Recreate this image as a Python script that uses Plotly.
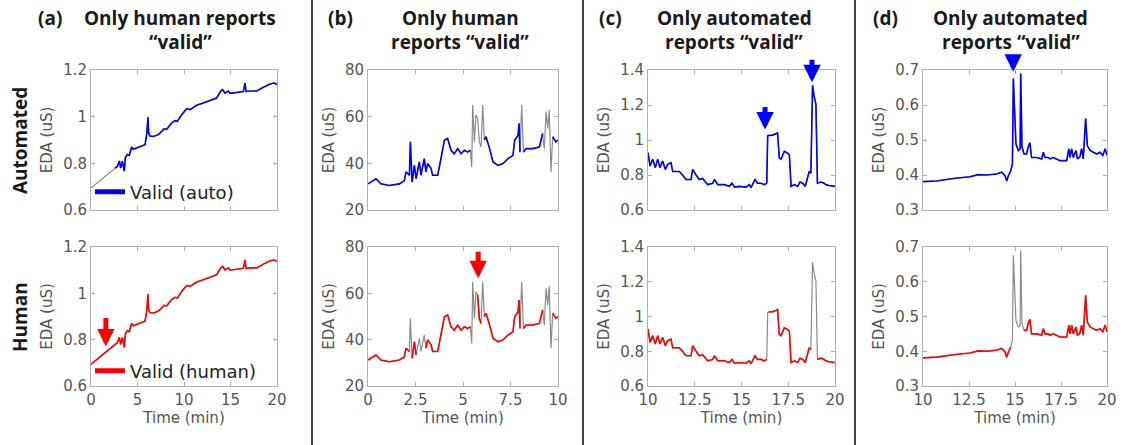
import plotly.graph_objects as go

W, H = 1125, 445

# ---------------- data ----------------
# Panel (a)
a_time = [0.0, 1.33, 2.58, 2.83, 3.05, 3.19, 3.37, 3.58, 3.69, 3.9, 4.12, 4.37, 4.55, 4.91, 5.45,
          5.81, 5.99, 6.13, 6.2, 6.34, 6.7, 7.24, 7.6, 7.85, 8.14, 8.67, 9.03, 9.28, 9.75, 10.29,
          10.65, 11.36, 12.08, 12.8, 13.5, 13.94, 14.16, 14.41, 14.77, 14.95, 15.67, 16.38, 16.56,
          16.67, 17.28, 17.82, 18.53, 19.25, 19.71, 20.0]
a_eda = [0.694, 0.737, 0.78, 0.787, 0.81, 0.78, 0.809, 0.766, 0.824, 0.838, 0.834, 0.87, 0.86,
         0.866, 0.876, 0.88, 0.923, 0.997, 0.93, 0.917, 0.915, 0.923, 0.937, 0.948, 0.946, 0.973,
         0.983, 0.98, 1.008, 1.034, 1.03, 1.049, 1.059, 1.07, 1.08, 1.109, 1.116, 1.101, 1.11, 1.1,
         1.105, 1.108, 1.144, 1.108, 1.11, 1.11, 1.126, 1.14, 1.144, 1.138]
a_auto_invalid = [(-1.0, 2.5)]
a_human_invalid = []

# Panel (b)
b_time = [0, 0.42, 0.68, 1.12, 1.65, 1.91, 2.0, 2.18, 2.23, 2.32, 2.44, 2.53, 2.7, 2.79, 2.96,
          3.05, 3.14, 3.32, 3.4, 3.67, 3.84, 4.02, 4.19, 4.37, 4.54, 4.72, 4.9, 5.07, 5.25, 5.39,
          5.46, 5.51, 5.6, 5.68, 5.77, 5.86, 5.95, 6.04, 6.12, 6.21, 6.4, 6.58, 6.84, 7.1, 7.37,
          7.63, 7.72, 7.9, 7.95, 8.0, 8.09, 8.18, 8.32, 8.67, 9.02, 9.19, 9.28, 9.37, 9.46, 9.54,
          9.63, 9.72, 9.89, 10.0]
b_eda = [31.2, 33.4, 31.2, 30.5, 31.2, 32.5, 36.3, 34.9, 49.2, 31.9, 39.1, 33.4, 40.6, 34.9, 42.0,
         36.3, 39.9, 37.8, 34.9, 34.9, 42.0, 49.9, 50.7, 45.6, 44.1, 46.3, 44.1, 45.6, 44.8, 45.6,
         38.4, 65.0, 49.2, 60.7, 59.3, 49.2, 47.0, 65.0, 50.0, 51.4, 46.3, 40.6, 39.1, 39.9, 42.0,
         43.4, 49.9, 52.0, 57.1, 44.8, 65.0, 44.8, 46.3, 46.3, 47.0, 52.8, 46.3, 62.2, 55.0, 63.0,
         36.3, 51.4, 49.2, 50.0]
b_auto_invalid = [(5.40, 6.10), (8.01, 8.17), (9.20, 9.70)]
b_human_invalid = [(2.20, 2.30), (2.65, 2.75), (2.93, 3.0), (5.40, 5.72), (5.96, 6.10),
                   (8.01, 8.17), (9.20, 9.42), (9.50, 9.70)]

# Panel (c)
c_time = [10.0, 10.11, 10.25, 10.39, 10.52, 10.64, 10.78, 10.93, 11.05, 11.23, 11.32, 11.68,
          11.85, 12.03, 12.3, 12.39, 12.57, 12.74, 12.92, 13.19, 13.46, 13.55, 13.73, 14.08,
          14.35, 14.49, 14.62, 14.88, 15.24, 15.42, 15.51, 15.63, 15.72, 15.86, 16.04, 16.22,
          16.35, 16.4, 16.45, 16.67, 16.84, 16.93, 17.02, 17.11, 17.29, 17.47, 17.56, 17.65,
          17.83, 18.0, 18.13, 18.27, 18.41, 18.53, 18.62, 18.71, 18.8, 18.88, 18.98, 19.06,
          19.24, 19.42, 19.5, 19.67, 19.94, 20.0]
c_eda = [0.928, 0.851, 0.89, 0.842, 0.89, 0.842, 0.88, 0.832, 0.861, 0.87, 0.82, 0.82, 0.80,
         0.774, 0.774, 0.832, 0.80, 0.774, 0.78, 0.745, 0.753, 0.774, 0.745, 0.745, 0.735, 0.753,
         0.731, 0.735, 0.731, 0.745, 0.728, 0.76, 0.774, 0.753, 0.753, 0.745, 0.753, 1.024,
         1.026, 1.028, 1.035, 1.04, 0.898, 0.89, 0.935, 0.925, 0.915, 0.735, 0.745, 0.735, 0.76,
         0.753, 0.735, 0.79, 0.82, 0.81, 1.312, 1.252, 1.204, 0.753, 0.76, 0.753, 0.745, 0.74,
         0.735, 0.735]
c_auto_invalid = []
c_human_invalid = [(16.36, 16.44), (18.72, 19.05)]

# Panel (d)
d_time = [10.0, 10.74, 11.65, 12.55, 13.0, 13.46, 14.0, 14.27, 14.37, 14.46, 14.55, 14.64, 14.77,
          14.86, 14.91, 14.98, 15.05, 15.18, 15.28, 15.31, 15.38, 15.49, 15.63, 15.72, 15.81,
          15.9, 16.18, 16.45, 16.54, 16.63, 16.81, 16.9, 17.08, 17.45, 17.81, 17.93, 17.99,
          18.08, 18.17, 18.32, 18.39, 18.53, 18.62, 18.71, 18.84, 18.93, 19.08, 19.26, 19.44,
          19.62, 19.77, 19.9, 20.0]
d_eda = [0.381, 0.383, 0.39, 0.395, 0.401, 0.40, 0.403, 0.408, 0.403, 0.398, 0.383, 0.398, 0.412,
         0.431, 0.676, 0.566, 0.489, 0.47, 0.475, 0.69, 0.48, 0.46, 0.46, 0.48, 0.492, 0.45, 0.45,
         0.446, 0.465, 0.45, 0.45, 0.446, 0.45, 0.441, 0.441, 0.475, 0.45, 0.475, 0.45, 0.47,
         0.446, 0.452, 0.475, 0.446, 0.561, 0.484, 0.47, 0.465, 0.46, 0.465, 0.456, 0.475, 0.456]
d_auto_invalid = []
d_human_invalid = [(14.80, 15.45)]

# Tick values / labels
a_xticks = [0, 5, 10, 15, 20]
a_xlabels = ["0", "5", "10", "15", "20"]
a_yticks = [0.6, 0.8, 1.0, 1.2]
a_ylabels = ["0.6", "0.8", "1", "1.2"]
b_xticks = [0, 2.5, 5, 7.5, 10]
b_xlabels = ["0", "2.5", "5", "7.5", "10"]
b_yticks = [20, 40, 60, 80]
b_ylabels = ["20", "40", "60", "80"]
c_xticks = [10, 12.5, 15, 17.5, 20]
c_xlabels = ["10", "12.5", "15", "17.5", "20"]
c_yticks = [0.6, 0.8, 1.0, 1.2, 1.4]
c_ylabels = ["0.6", "0.8", "1", "1.2", "1.4"]
d_xticks = [10, 12.5, 15, 17.5, 20]
d_xlabels = ["10", "12.5", "15", "17.5", "20"]
d_yticks = [0.3, 0.4, 0.5, 0.6, 0.7]
d_ylabels = ["0.3", "0.4", "0.5", "0.6", "0.7"]

panel_letters = ["(a)", "(b)", "(c)", "(d)"]
panel_titles = [["Only human reports", "\u201cvalid\u201d"],
                ["Only human", "reports \u201cvalid\u201d"],
                ["Only automated", "reports \u201cvalid\u201d"],
                ["Only automated", "reports \u201cvalid\u201d"]]
row_labels = ["Automated", "Human"]
legend_labels = ["Valid (auto)", "Valid (human)"]

# arrows: (panel index, row, time, eda)
arrow_marks = [(0, 1, 1.6, 0.77), (1, 1, 5.8, 66.5), (2, 0, 16.26, 1.06), (2, 0, 18.77, 1.33),
               (3, 0, 14.9, 0.695)]

# ---------------- figure ----------------
panels = [
    dict(t=a_time, y=a_eda, inv=[a_auto_invalid, a_human_invalid], xr=[0, 20], yr=[0.6, 1.2],
         xt=a_xticks, xl=a_xlabels, yt=a_yticks, yl=a_ylabels),
    dict(t=b_time, y=b_eda, inv=[b_auto_invalid, b_human_invalid], xr=[0, 10], yr=[20, 80],
         xt=b_xticks, xl=b_xlabels, yt=b_yticks, yl=b_ylabels),
    dict(t=c_time, y=c_eda, inv=[c_auto_invalid, c_human_invalid], xr=[10, 20], yr=[0.6, 1.4],
         xt=c_xticks, xl=c_xlabels, yt=c_yticks, yl=c_ylabels),
    dict(t=d_time, y=d_eda, inv=[d_auto_invalid, d_human_invalid], xr=[10, 20], yr=[0.3, 0.7],
         xt=d_xticks, xl=d_xlabels, yt=d_yticks, yl=d_ylabels),
]

col_px = [(91, 277), (368, 558), (648, 835), (923, 1107)]
row_px = [(70, 210), (247, 386)]
row_colors = ["#0000FF", "#FF0000"]
arrow_len = {(0, 1): 30, (1, 1): 28, (2, 0): 24, (3, 0): 17}


def fx(p):
    return p / W


def fy(p):
    return 1 - p / H


def masked(t, y, intervals):
    out = []
    for ti, yi in zip(t, y):
        bad = any(lo < ti < hi for lo, hi in intervals)
        out.append(None if bad else yi)
    return out


TICKFONT = dict(family="DejaVu Sans", size=15, color="#555555")
AXFONT = dict(family="DejaVu Sans", size=15, color="#555555")
AXCOL = "#b0b0b0"

fig = go.Figure()
layout = dict(width=W, height=H, margin=dict(l=0, r=0, t=0, b=0, pad=0, autoexpand=False),
              plot_bgcolor="white", paper_bgcolor="white", showlegend=True)


def refs(idx):
    s = "" if idx == 1 else str(idx)
    return "x" + s, "y" + s, "xaxis" + s, "yaxis" + s


for r in range(2):
    for c, p in enumerate(panels):
        idx = r * 4 + c + 1
        xr_, yr_, xname, yname = refs(idx)
        fig.add_trace(go.Scatter(x=p["t"], y=p["y"], mode="lines",
                                 line=dict(color="#8a8a8a", width=1.2),
                                 xaxis=xr_, yaxis=yr_, showlegend=False, hoverinfo="skip"))
        fig.add_trace(go.Scatter(x=p["t"], y=masked(p["t"], p["y"], p["inv"][r]), mode="lines",
                                 line=dict(color=row_colors[r], width=1.6), connectgaps=False,
                                 xaxis=xr_, yaxis=yr_, showlegend=False))
        x0, x1 = col_px[c]
        y0, y1 = row_px[r]
        layout[xname] = dict(domain=[fx(x0), fx(x1)], range=p["xr"], anchor=yr_,
                             tickvals=p["xt"], ticktext=p["xl"], showticklabels=(r == 1),
                             showline=True, linecolor=AXCOL, linewidth=1, mirror="ticks",
                             ticks="inside", ticklen=4, tickcolor=AXCOL, showgrid=False,
                             zeroline=False, tickfont=TICKFONT, automargin=False,
                             title=dict(text="Time (min)" if r == 1 else "", font=AXFONT,
                                        standoff=2))
        layout[yname] = dict(domain=[fy(y1), fy(y0)], range=p["yr"], anchor=xr_,
                             tickvals=p["yt"], ticktext=p["yl"],
                             showline=True, linecolor=AXCOL, linewidth=1, mirror="ticks",
                             ticks="inside", ticklen=4, tickcolor=AXCOL, showgrid=False,
                             zeroline=False, tickfont=TICKFONT, automargin=False,
                             title=dict(text="EDA (uS)", font=AXFONT, standoff=6))

# legend entries (panel a)
fig.add_trace(go.Scatter(x=[None], y=[None], mode="lines", name=legend_labels[0],
                         line=dict(color=row_colors[0], width=5), legend="legend",
                         xaxis="x", yaxis="y"))
fig.add_trace(go.Scatter(x=[None], y=[None], mode="lines", name=legend_labels[1],
                         line=dict(color=row_colors[1], width=5), legend="legend2",
                         xaxis="x5", yaxis="y5"))
LEGFONT = dict(family="DejaVu Sans", size=18, color="#222222")
layout["legend"] = dict(x=fx(90), y=fy(192), xanchor="left", yanchor="middle",
                        bgcolor="rgba(0,0,0,0)", font=LEGFONT, borderwidth=0)
layout["legend2"] = dict(x=fx(90), y=fy(371), xanchor="left", yanchor="middle",
                         bgcolor="rgba(0,0,0,0)", font=LEGFONT, borderwidth=0)

annotations = []
TFONT = dict(family="Open Sans", size=19, color="#1a1a1a", weight="bold")
letter_x = [50, 340, 610, 885]
title_x = [180, 460, 734, 1011]
for c in range(4):
    annotations.append(dict(text=panel_letters[c], x=fx(letter_x[c]), y=fy(18), xref="paper",
                            yref="paper", showarrow=False, xanchor="center", yanchor="middle",
                            font=TFONT))
    for li, line in enumerate(panel_titles[c]):
        annotations.append(dict(text=line, x=fx(title_x[c]), y=fy(18 + 24 * li), xref="paper",
                                yref="paper", showarrow=False, xanchor="center",
                                yanchor="middle", font=TFONT))
row_label_y = [141, 317]
for r in range(2):
    annotations.append(dict(text=row_labels[r], x=fx(20), y=fy(row_label_y[r]), xref="paper",
                            yref="paper", showarrow=False, textangle=-90, xanchor="center",
                            yanchor="middle", font=TFONT))

for (c, r, t, e) in arrow_marks:
    idx = r * 4 + c + 1
    xr_, yr_, _, _ = refs(idx)
    annotations.append(dict(text="", x=t, y=e, xref=xr_, yref=yr_, showarrow=True,
                            ax=0, ay=-arrow_len[(c, r)], arrowcolor=row_colors[r],
                            arrowwidth=5, arrowhead=2, arrowsize=0.7, standoff=0))

layout["annotations"] = annotations
layout["shapes"] = [dict(type="line", xref="paper", yref="paper", x0=fx(sx), x1=fx(sx),
                         y0=0, y1=1, line=dict(color="#404040", width=2))
                    for sx in (312, 583, 855)]

fig.update_layout(**layout)
# remove the default 8px page margin so the figure fills the window exactly
fig.write_html("out.html", config={"displayModeBar": False},
               post_script="document.body.style.margin='0px';document.body.style.overflow='hidden';")
